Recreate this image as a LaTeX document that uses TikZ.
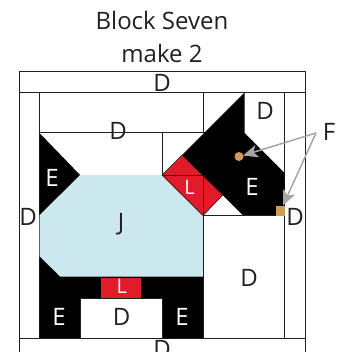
\documentclass[tikz,border=0pt]{standalone}
\usepackage{fontspec}
\setmainfont{Open Sans}
\usetikzlibrary{arrows.meta}
\definecolor{jblue}{HTML}{CBE8EE}
\definecolor{lred}{HTML}{E11B2A}
\definecolor{ftan}{HTML}{CF9B5A}
\definecolor{agrey}{HTML}{A7A5A6}
\definecolor{lblack}{HTML}{231F20}
\tikzset{
  seam/.style={draw=lblack,line width=1pt},
  thinseam/.style={draw=lblack,line width=.7pt},
  patchblack/.style={fill=black},
  patchblue/.style={fill=jblue},
  patchred/.style={fill=lred},
  patchtan/.style={fill=ftan},
  lab/.style={inner sep=0pt,anchor=base,font=\fontsize{24}{24}\selectfont,text=lblack},
  wlab/.style={lab,text=white},
  slab/.style={inner sep=0pt,anchor=base,font=\fontsize{20}{20}\selectfont,text=white},
  pointer/.style={draw=agrey,line width=1.5pt,-{Stealth[length=15pt,width=13pt,inset=4pt]}},
}
\begin{document}
\begin{tikzpicture}[x=1pt,y=-1pt]
\useasboundingbox (0,0) rectangle (344,352);
% outer frame
\draw[seam] (19,360) -- (19,72) -- (305.5,72) -- (305.5,360);
\draw[seam] (19,92.5) -- (305.5,92.5);
\draw[seam] (19,338) -- (305.5,338);
\draw[seam] (39.5,92.5) -- (39.5,338);
\draw[seam] (284.5,92.5) -- (284.5,338);
\draw[seam] (39.5,133) -- (244,133);
\draw[seam] (203,92.5) -- (203,133);
\draw[seam] (162,133) -- (162,175);
% patches
\fill[patchblue] (80,175) -- (162,175) -- (203,215.5) -- (203,276.5) -- (60,276.5) -- (39.5,256.5) -- (39.5,215) -- cycle;
\fill[patchblack] (39.5,133) -- (80,175) -- (39.5,215) -- cycle;
\fill[patchblack] (39.5,256.5) -- (60,276.5) -- (203,276.5) -- (203,338) -- (39.5,338) -- cycle;
\fill[white] (80,298) rectangle (162,338);
\draw[thinseam] (80,338) -- (80,298) -- (162,298) -- (162,338);
\fill[patchred] (101,278) rectangle (141,297.5);
\fill[patchblack] (244.5,92.5) -- (182,155) -- (222.7,195) -- (243,215.5) -- (284.5,215.5) -- (284.5,173) -- (244.5,133) -- cycle;
\fill[patchred] (162,175) -- (182,155) -- (222.7,195) -- (203,215.5) -- cycle;
\draw[thinseam] (162,175) -- (182,155) -- (222.7,195) -- (203,215.5) -- cycle;
\draw[thinseam] (162,175) -- (203,175) -- (203,215.5);
\draw[seam] (203,215.5) -- (284.5,215.5);
\draw[seam] (203,215.5) -- (203,338);
\fill[patchtan] (275.5,205.5) rectangle (284.5,215.5);
\fill[patchtan] (239,156.5) circle (4.5);
% labels
\node[lab] (t1) at (162,30) {Block Seven};
\node[lab] (t2) at (162,63) {make 2};
\node[lab] (d1) at (162,92) {D};
\node[lab] (d2) at (118,140) {D};
\node[lab] (d3) at (265,119.5) {D};
\node[lab] (d4) at (28,225.7) {D};
\node[lab] (d5) at (295,225.7) {D};
\node[lab] (d6) at (249,286.7) {D};
\node[lab] (d7) at (121.7,325) {D};
\node[lab] (d8) at (162,357) {D};
\node[wlab] (e1) at (52,186) {E};
\node[wlab] (e2) at (252,195.7) {E};
\node[wlab] (e3) at (59,325) {E};
\node[wlab] (e4) at (182,325) {E};
\node[lab] (j) at (121,230) {J};
\node[slab] (l1) at (189.5,194.3) {L};
\node[slab] (l2) at (121.7,293.3) {L};
\node[lab] (f) at (329,140.7) {F};
\coordinate (dot) at (243,155.5);
\coordinate (sq) at (283,205.5);
\coordinate (fj) at (316,133);
\draw[pointer] (fj) -- (dot);
\draw[pointer] (fj) -- (sq);
\end{tikzpicture}
\end{document}
